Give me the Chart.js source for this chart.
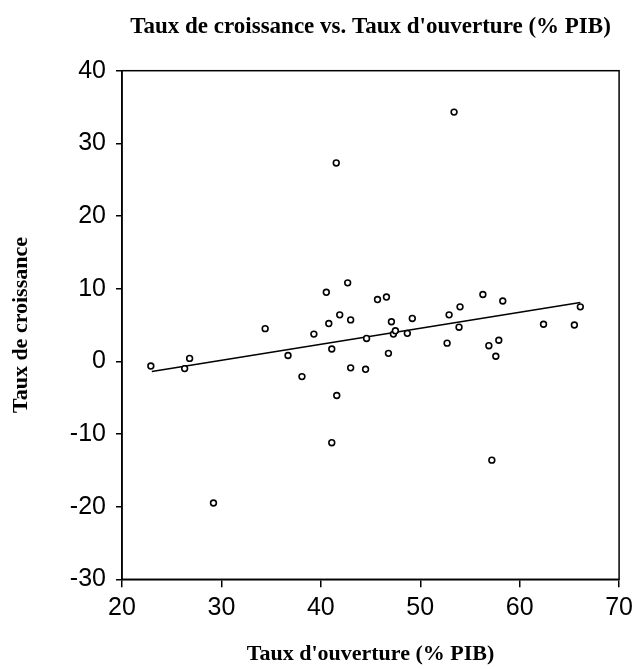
<!DOCTYPE html>
<html>
<head>
<meta charset="utf-8">
<script src="https://cdn.jsdelivr.net/npm/chart.js@4/dist/chart.umd.min.js"></script>
<style>
  body { margin: 0; background: #fff; }
  canvas { display: block; }
</style>
</head>
<body>
<canvas id="scatterChart" width="639" height="669"></canvas>
<script>
// taux d'ouverture (% PIB) par pays
var openness = [22.9, 26.3, 26.8, 29.2, 34.4, 36.7, 38.1, 39.3, 40.55, 40.8,
    41.1, 41.1, 41.55, 41.6, 41.9, 42.7, 43.0, 43.0, 44.5, 44.6,
    45.7, 46.6, 46.8, 47.1, 47.3, 47.5, 48.7, 49.2, 52.7, 52.9,
    53.4, 53.9, 54.0, 56.3, 56.9, 57.2, 57.6, 57.9, 58.3, 62.4,
    65.5, 66.1];
// taux de croissance correspondant
var growth = [-0.65, -1.0, 0.4, -19.5, 4.5, 0.8, -2.1, 3.75, 9.5, 5.2,
    1.7, -11.2, 27.3, -4.7, 6.4, 10.8, 5.7, -0.9, -1.1, 3.15,
    8.5, 8.85, 1.1, 5.45, 3.75, 4.2, 3.85, 5.9, 2.5, 6.4,
    34.3, 4.7, 7.5, 9.2, 2.15, -13.6, 0.7, 2.9, 8.3, 5.1,
    5.0, 7.5];
// droite de regression (extremites)
var fitX = [23.0, 66.1];
var fitY = [-1.4, 8.1];

var xMin = 20, xMax = 70, xStep = 10;
var yMin = -30, yMax = 40, yStep = 10;

var points = [];
for (var i = 0; i < openness.length; i++) {
    points.push({x: openness[i], y: growth[i]});
}
var fitLine = [];
for (var j = 0; j < fitX.length; j++) {
    fitLine.push({x: fitX[j], y: fitY[j]});
}

// cadre complet autour de la zone du graphique
var boxPlugin = {
    id: 'boxFrame',
    afterDraw: function(chart) {
        var a = chart.chartArea;
        var ctx = chart.ctx;
        ctx.save();
        ctx.strokeStyle = '#000';
        ctx.lineWidth = 1.5;
        ctx.strokeRect(a.left, a.top, a.right - a.left, a.bottom - a.top);
        ctx.restore();
    }
};

var serifFamily = "'Liberation Serif', 'Times New Roman', serif";
var titleFont = {family: serifFamily, weight: 'bold', size: 23};
var axisTitleFont = {family: serifFamily, weight: 'bold', size: 22};
var tickFont = {family: "'Liberation Sans', Arial, sans-serif", size: 25};

var ctx = document.getElementById('scatterChart').getContext('2d');
var chart = new Chart(ctx, {
    type: 'scatter',
    data: {
        datasets: [{
            label: 'observations',
            data: points,
            pointRadius: 2.9,
            pointBorderWidth: 1.6,
            borderColor: '#000',
            backgroundColor: '#fff'
        },
        {
            label: 'regression',
            data: fitLine,
            showLine: true,
            pointRadius: 0,
            borderColor: '#000',
            borderWidth: 1.7,
            fill: false
        }]
    },
    options: {
        responsive: false,
        animation: false,
        devicePixelRatio: 1,
        layout: {
            padding: {top: 0, left: 0, right: 15, bottom: 0}
        },
        plugins: {
            legend: {display: false},
            tooltip: {enabled: false},
            title: {
                display: true,
                fullSize: false,
                text: "Taux de croissance vs. Taux d'ouverture (% PIB)",
                color: '#000',
                font: titleFont,
                padding: {top: 13, bottom: 30.1}
            }
        },
        scales: {
            x: {
                type: 'linear',
                min: xMin,
                max: xMax,
                afterFit: function(scale) { scale.height = 89.7; },
                ticks: {
                    stepSize: xStep,
                    color: '#000',
                    font: tickFont,
                    padding: 6
                },
                grid: {
                    drawOnChartArea: false,
                    drawTicks: true,
                    tickLength: 8,
                    color: '#000',
                    lineWidth: 1.5
                },
                border: {color: '#000', width: 1.5},
                title: {
                    display: true,
                    text: "Taux d'ouverture (% PIB)",
                    color: '#000',
                    font: axisTitleFont,
                    padding: {top: 0, bottom: 1}
                }
            },
            y: {
                type: 'linear',
                min: yMin,
                max: yMax,
                afterFit: function(scale) { scale.width = 122; },
                ticks: {
                    stepSize: yStep,
                    color: '#000',
                    font: tickFont,
                    padding: 10
                },
                grid: {
                    drawOnChartArea: false,
                    drawTicks: true,
                    tickLength: 6,
                    color: '#000',
                    lineWidth: 1.5
                },
                border: {color: '#000', width: 1.5},
                title: {
                    display: true,
                    text: 'Taux de croissance',
                    color: '#000',
                    font: axisTitleFont,
                    padding: {top: 8, bottom: 0}
                }
            }
        }
    },
    plugins: [boxPlugin]
});
</script>
</body>
</html>
